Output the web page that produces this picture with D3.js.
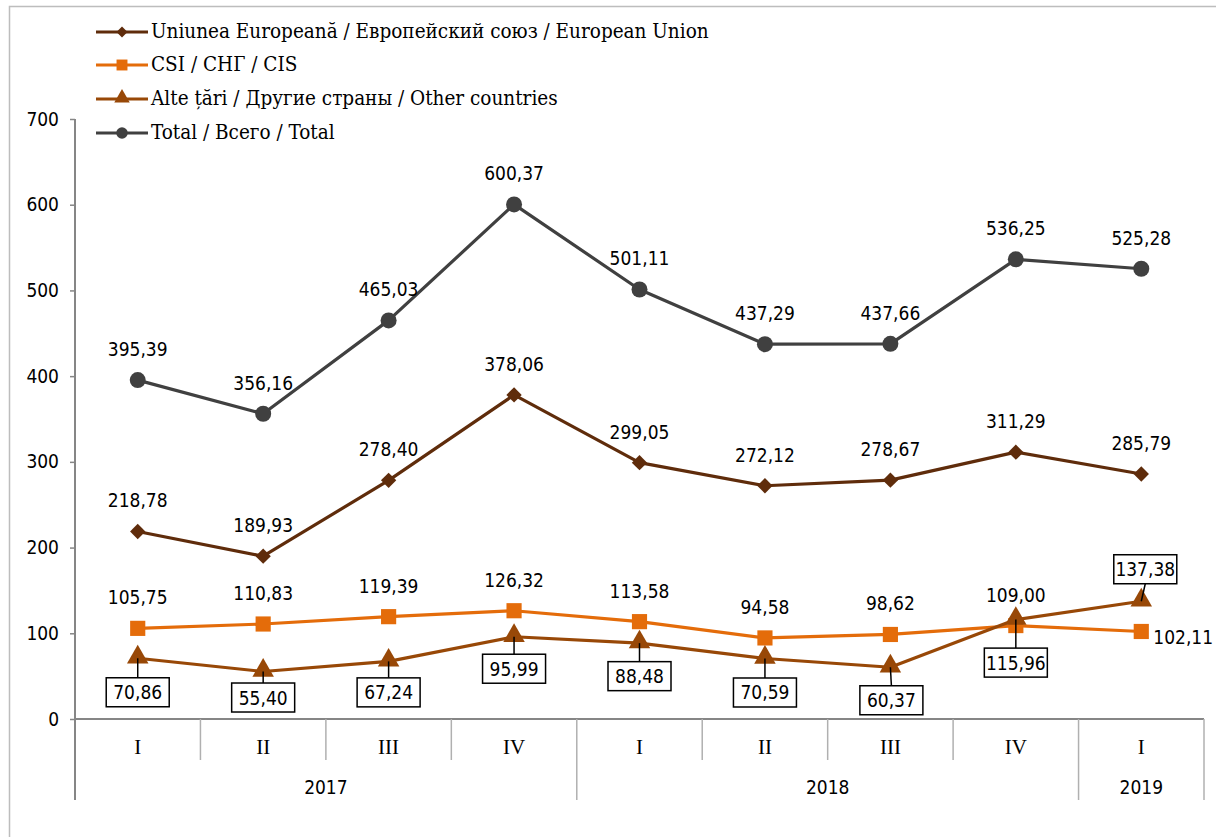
<!DOCTYPE html>
<html>
<head>
<meta charset="utf-8">
<script src="https://cdn.jsdelivr.net/npm/d3@7"></script>
<style>
  body { margin: 0; background: #fff; }
  .num { font-family: "Liberation Sans Narrow", "DejaVu Sans Condensed", sans-serif; font-size: 19px; fill: #000; }
  .leg { font-family: "DejaVu Serif Condensed", "DejaVu Serif", serif; font-size: 20.5px; fill: #000; }
  .cat { font-family: "Liberation Serif", serif; font-size: 21px; fill: #000; }
</style>
</head>
<body>
<div id="canvas"></div>
<script>
// quarters and years
var quarters = ["I", "II", "III", "IV", "I", "II", "III", "IV", "I"];
var years = [
  { year: "2017", from: 0, to: 4 },
  { year: "2018", from: 4, to: 8 },
  { year: "2019", from: 8, to: 9 },
];
var yTicks = [0, 100, 200, 300, 400, 500, 600, 700];

// series values
var euValues = [218.78, 189.93, 278.4, 378.06, 299.05, 272.12, 278.67, 311.29, 285.79];
var cisValues = [105.75, 110.83, 119.39, 126.32, 113.58, 94.58, 98.62, 109.0, 102.11];
var otherValues = [70.86, 55.4, 67.24, 95.99, 88.48, 70.59, 60.37, 115.96, 137.38];
var totalValues = [395.39, 356.16, 465.03, 600.37, 501.11, 437.29, 437.66, 536.25, 525.28];

var series = [
  { name: "Uniunea Europeană / Европейский союз / European Union", values: euValues, color: "#5f2c0b", marker: "diamond" },
  { name: "CSI / СНГ / CIS", values: cisValues, color: "#e46c0a", marker: "square" },
  { name: "Alte țări / Другие страны / Other countries", values: otherValues, color: "#984807", marker: "triangle" },
  { name: "Total / Всего / Total", values: totalValues, color: "#404040", marker: "circle" },
];

var W = 1216, H = 837;
var svg = d3.select("#canvas").append("svg").attr("width", W).attr("height", H);

// outer frame
svg.append("rect")
  .attr("x", 9.5).attr("y", 6.5)
  .attr("width", 1300).attr("height", 1000)
  .attr("fill", "none").attr("stroke", "#bdbdbd").attr("stroke-width", 1.5);

var x0 = 75, x1 = 1204, yBase = 719, yTop = 119;
var xScale = d3.scaleBand().domain(d3.range(quarters.length)).range([x0, x1]);
var yScale = d3.scaleLinear().domain([0, 700]).range([yBase, yTop]);
var cx = (i) => xScale(i) + xScale.bandwidth() / 2;

// y axis
var yAxis = d3.axisLeft(yScale).tickValues(yTicks).tickSize(5).tickPadding(11);
var yg = svg.append("g").attr("transform", "translate(" + x0 + ",0)").call(yAxis);
yg.select(".domain").remove();
yg.selectAll(".tick line").attr("stroke", "#868686").attr("stroke-width", 1.5);
yg.selectAll(".tick text").attr("class", "num").attr("font-size", null).attr("font-family", null);
svg.append("line")
  .attr("x1", x0).attr("x2", x0).attr("y1", yTop).attr("y2", 800)
  .attr("stroke", "#868686").attr("stroke-width", 2);

// category axis
svg.append("line")
  .attr("x1", x0).attr("x2", x1).attr("y1", yBase).attr("y2", yBase)
  .attr("stroke", "#868686").attr("stroke-width", 2);
svg.selectAll(".qdiv")
  .data(d3.range(1, quarters.length + 1))
  .enter().append("line")
  .attr("x1", (i) => (i < quarters.length ? xScale(i) : x1))
  .attr("x2", (i) => (i < quarters.length ? xScale(i) : x1))
  .attr("y1", yBase)
  .attr("y2", (i) => (years.some((y) => y.to === i) ? 800 : 760))
  .attr("stroke", "#b0b0b0").attr("stroke-width", 1.5);
svg.selectAll(".qlab")
  .data(quarters)
  .enter().append("text")
  .attr("class", "cat")
  .attr("x", (d, i) => cx(i)).attr("y", 754)
  .attr("text-anchor", "middle")
  .text((d) => d);
svg.selectAll(".ylab")
  .data(years)
  .enter().append("text")
  .attr("class", "num")
  .attr("x", (d) => (xScale(d.from) + (d.to < quarters.length ? xScale(d.to) : x1)) / 2)
  .attr("y", 794)
  .attr("text-anchor", "middle")
  .text((d) => d.year);

// markers
function drawMarker(g, type, color, x, y, k) {
  k = k || 1;
  if (type === "circle") {
    g.append("circle").attr("cx", x).attr("cy", y).attr("r", 8 * k).attr("fill", color);
  } else {
    var sym = { diamond: d3.symbolDiamond2, square: d3.symbolSquare, triangle: d3.symbolTriangle }[type];
    var size = { diamond: 150, square: 230, triangle: 200 }[type];
    g.append("path")
      .attr("d", d3.symbol().type(sym).size(size * k * k)())
      .attr("transform", "translate(" + x + "," + (type === "triangle" ? y - 1 : y) + ")")
      .attr("fill", color);
  }
}

var line = d3.line().x((d, i) => cx(i)).y((d) => yScale(d));
series.forEach(function (s) {
  var g = svg.append("g");
  g.append("path")
    .attr("d", line(s.values))
    .attr("fill", "none").attr("stroke", s.color).attr("stroke-width", 3.2)
    .attr("stroke-linejoin", "round");
  s.values.forEach((v, i) => drawMarker(g, s.marker, s.color, cx(i), yScale(v)));
});

var fmt = (v) => v.toFixed(2).replace(".", ",");

// labels above points (EU, CIS, Total)
[euValues, cisValues, totalValues].forEach(function (vals, k) {
  svg.append("g").selectAll("text")
    .data(vals)
    .enter().append("text")
    .attr("class", "num")
    .attr("x", (d, i) => (k === 1 && i === 8 ? cx(i) + 12 : cx(i)))
    .attr("y", (d, i) => (k === 1 && i === 8 ? yScale(d) + 13 : yScale(d) - 24))
    .attr("text-anchor", (d, i) => (k === 1 && i === 8 ? "start" : "middle"))
    .text(fmt);
});

// boxed labels for other countries (offset of box centre from point)
var otherDy = [34, 26, 31, 32, 33, 34, 33, 43, -32];
var otherDx = [0, 0, 0, 0, 0, 0, 1, 0, 4];
var og = svg.append("g");
otherValues.forEach(function (v, i) {
  var px = cx(i), py = yScale(v);
  var bx = px + otherDx[i], by = py + otherDy[i];
  var bw = 63, bh = 29;
  var edge = otherDy[i] > 0 ? by - bh / 2 : by + bh / 2;
  if (Math.abs(edge - py) > 10) {
    og.append("line")
      .attr("x1", px).attr("y1", py)
      .attr("x2", bx).attr("y2", edge)
      .attr("stroke", "#000").attr("stroke-width", 1.5);
  }
  og.append("rect")
    .attr("x", bx - bw / 2).attr("y", by - bh / 2)
    .attr("width", bw).attr("height", bh)
    .attr("fill", "#fff").attr("stroke", "#000").attr("stroke-width", 1.5);
  og.append("text")
    .attr("class", "num")
    .attr("x", bx).attr("y", by + 7)
    .attr("text-anchor", "middle")
    .text(fmt(v));
});

// legend
var lg = svg.append("g");
var legY = [32, 65, 99, 133];
series.forEach(function (s, i) {
  lg.append("line")
    .attr("x1", 96).attr("x2", 148).attr("y1", legY[i]).attr("y2", legY[i])
    .attr("stroke", s.color).attr("stroke-width", 3.2);
  drawMarker(lg, s.marker, s.color, 122, legY[i], 0.72);
  lg.append("text")
    .attr("class", "leg")
    .attr("x", 151).attr("y", legY[i] + 6)
    .text(s.name);
});
</script>
</body>
</html>
